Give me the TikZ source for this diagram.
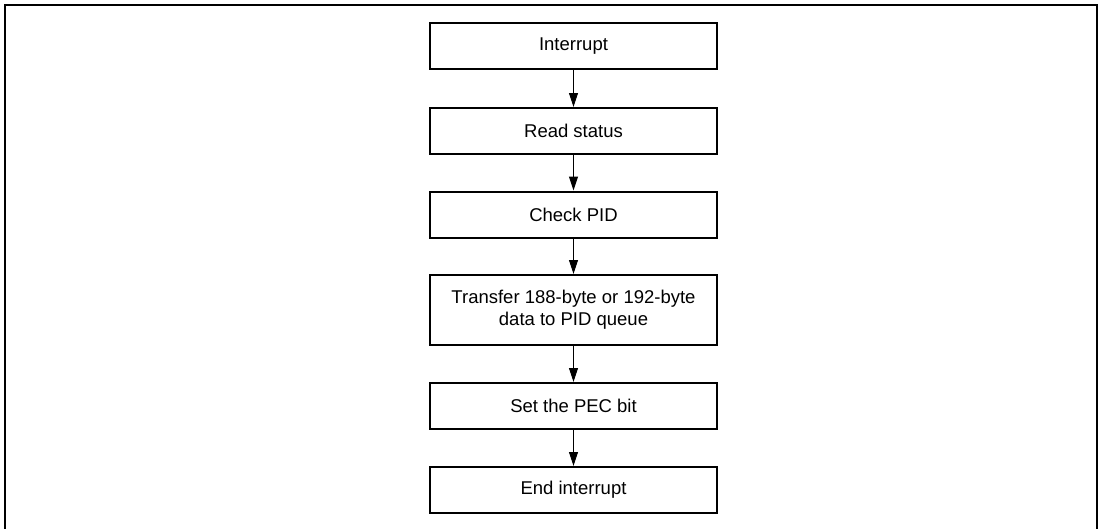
\documentclass[tikz,border=0pt]{standalone}
\usepackage{fontspec}
\setmainfont{Liberation Sans}
\usetikzlibrary{arrows.meta}
\begin{document}
\begin{tikzpicture}[x=1pt,y=-1pt,
  stepbox/.style={draw, line width=2pt, minimum width=287pt, minimum height=46pt, align=center, inner sep=0pt, font=\fontsize{18.5}{22}\selectfont},
  conn/.style={line width=1pt, -{Triangle[length=14pt,width=9pt]}}]
\useasboundingbox (0,0) rectangle (1101,528);
\draw[line width=2.3pt] (5,530) -- (5,5) -- (1097,5) -- (1097,530);
\node[stepbox] (n1) at (573.5,46) {Interrupt};
\node[stepbox] (n2) at (573.5,131) {Read status};
\node[stepbox] (n3) at (573.5,214.5) {Check PID};
\node[stepbox, minimum height=70pt] (n4) at (573.5,310) {Transfer 188-byte or 192-byte\\data to PID queue};
\node[stepbox] (n5) at (573.5,406) {Set the PEC bit};
\node[stepbox] (n6) at (573.5,490) {End interrupt};
\draw[conn] (n1) -- (n2);
\draw[conn] (n2) -- (n3);
\draw[conn] (n3) -- (n4);
\draw[conn] (n4) -- (n5);
\draw[conn] (n5) -- (n6);
\end{tikzpicture}
\end{document}
